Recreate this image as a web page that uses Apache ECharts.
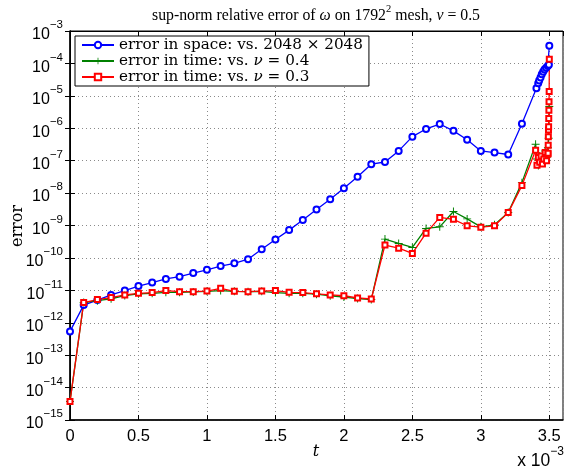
<!DOCTYPE html>
<html><head><meta charset="utf-8">
<script src="https://cdn.jsdelivr.net/npm/echarts@6/dist/echarts.min.js"></script>
<style>html,body{margin:0;padding:0;background:#fff}#c{width:568px;height:471px}</style>
</head><body><div id="c"></div>
<script>
// time axis values in units of 1e-3
const tSpace = [0,0.1,0.2,0.3,0.4,0.5,0.6,0.7,0.8,0.9,1.0,1.1,1.2,1.3,1.4,1.5,1.6,1.7,1.8,1.9,2.0,2.1,2.2,2.3,2.4,2.5,2.6,2.7,2.8,2.9,3.0,3.1,3.2,3.3,3.406,3.419,3.426,3.436,3.445,3.455,3.465,3.477,3.489,3.497,3.5];
const errSpace = [5.4e-13,3.5e-12,5.0e-12,7.2e-12,9.8e-12,1.35e-11,1.74e-11,2.24e-11,2.63e-11,3.4e-11,4.3e-11,5.6e-11,6.8e-11,9.1e-11,1.86e-10,3.7e-10,7.2e-10,1.48e-9,3.1e-9,6.5e-9,1.41e-8,3.2e-8,7.8e-8,9.1e-8,2.0e-7,5.5e-7,9.5e-7,1.35e-6,8.3e-7,4.4e-7,2.0e-7,1.78e-7,1.55e-7,1.38e-6,1.7e-5,2.45e-5,2.95e-5,3.7e-5,4.6e-5,5.5e-5,6.5e-5,7.4e-5,8.3e-5,9.1e-5,3.5e-4];
const tNu04 = [0,0.1,0.2,0.3,0.4,0.5,0.6,0.7,0.8,0.9,1.0,1.1,1.2,1.3,1.4,1.5,1.6,1.7,1.8,1.9,2.0,2.1,2.2,2.3,2.4,2.5,2.6,2.7,2.8,2.9,3.0,3.1,3.2,3.3,3.40,3.41,3.42,3.43,3.44,3.45,3.46,3.47,3.48,3.49,3.495,3.5];
const errNu04 = [3.7e-15,4.2e-12,4.8e-12,5.5e-12,6.9e-12,7.8e-12,8.1e-12,8.7e-12,8.7e-12,8.9e-12,9.3e-12,9.8e-12,9.3e-12,9.1e-12,9.3e-12,8.5e-12,8.1e-12,8.1e-12,7.6e-12,6.8e-12,6.2e-12,5.6e-12,5.2e-12,3.8e-10,2.8e-10,2.1e-10,8.1e-10,9.1e-10,2.7e-9,1.6e-9,9.1e-10,1.05e-9,2.5e-9,2.1e-8,3.2e-7,1.12e-7,7.1e-8,1.4e-7,1.0e-7,1.6e-7,8.9e-8,2.0e-7,1.26e-7,2.5e-7,4.9e-7,4.7e-6];
const tNu03 = [0,0.1,0.2,0.3,0.4,0.5,0.6,0.7,0.8,0.9,1.0,1.1,1.2,1.3,1.4,1.5,1.6,1.7,1.8,1.9,2.0,2.1,2.2,2.3,2.4,2.5,2.6,2.7,2.8,2.9,3.0,3.1,3.2,3.3,3.40,3.41,3.42,3.43,3.44,3.45,3.46,3.47,3.48,3.49,3.491,3.492,3.493,3.494,3.495,3.496,3.497,3.498,3.499,3.5];
const errNu03 = [3.7e-15,4.2e-12,5.2e-12,6.0e-12,7.2e-12,8.1e-12,8.5e-12,9.8e-12,9.1e-12,9.1e-12,9.5e-12,1.15e-11,9.3e-12,9.1e-12,9.5e-12,9.8e-12,8.7e-12,8.5e-12,7.8e-12,7.2e-12,6.8e-12,5.8e-12,5.4e-12,2.5e-10,2.0e-10,1.38e-10,5.8e-10,1.78e-9,1.55e-9,9.8e-10,8.9e-10,9.8e-10,2.5e-9,1.7e-8,2.1e-7,7.2e-8,1.26e-7,8.9e-8,1.4e-7,7.9e-8,1.12e-7,1.78e-7,1.0e-7,1.6e-7,1.7e-7,3.0e-7,5.5e-7,8.9e-7,1.12e-6,2.0e-6,3.6e-6,6.6e-6,1.35e-5,1.35e-4];
const xTicks = [0,0.5,1,1.5,2,2.5,3,3.5];
const seriesNames = ['space','nu04','nu03'];

const pairs = (t, v) => t.map((x, i) => [x, v[i]]);
const chart = echarts.init(document.getElementById('c'), null, {renderer: 'canvas'});
const serif = '"DejaVu Serif", "Liberation Serif", serif';
const serifT = '"Liberation Serif", "DejaVu Serif", serif';
const sans = '"Liberation Sans", Arial, sans-serif';
const gridLine = {show: true, lineStyle: {color: '#8a8a8a', type: [1, 3], width: 1}};
const expLabel = v => {
  const n = Math.round(Math.log10(v));
  return '{b|10}{s|' + (n < 0 ? '\u2212' + (-n) : n) + '}';
};
const tickRich = {
  b: {fontFamily: sans, fontSize: 16, color: '#000', verticalAlign: 'bottom', lineHeight: 24},
  s: {fontFamily: sans, fontSize: 11.5, color: '#000', verticalAlign: 'top', lineHeight: 24}
};
const bigRich = {
  b: {fontFamily: sans, fontSize: 17.5, color: '#000', verticalAlign: 'bottom', lineHeight: 24},
  s: {fontFamily: sans, fontSize: 12, color: '#000', verticalAlign: 'top', lineHeight: 24}
};
const legendRich = {
  n: {fontFamily: serif, fontSize: 15.2, color: '#000'},
  i: {fontFamily: serif, fontSize: 15.2, color: '#000', fontStyle: 'italic'}
};
const legendText = {
  space: '{n|error in space: vs. 2048 \u00d7 2048}',
  nu04: '{n|error in time: vs. }{i|\u03bd}{n| = 0.4}',
  nu03: '{n|error in time: vs. }{i|\u03bd}{n| = 0.3}'
};
const plusPath = 'path://M-0.12,-1H0.12V-0.12H1V0.12H0.12V1H-0.12V0.12H-1V-0.12H-0.12Z';

chart.setOption({
  animation: false,
  backgroundColor: '#fff',
  grid: {left: 70, right: 5, top: 31, bottom: 51, show: true, borderColor: '#000', borderWidth: 1,
    containLabel: false, outerBoundsMode: 'none'},
  legend: {
    orient: 'vertical', left: 75, top: 36, padding: [1, 6, 1, 6], itemGap: 0,
    itemWidth: 32, itemHeight: 8, backgroundColor: '#fff', borderColor: '#000', borderWidth: 1,
    data: seriesNames, formatter: n => legendText[n],
    textStyle: {fontFamily: serif, fontSize: 15.2, color: '#000', lineHeight: 16, rich: legendRich}
  },
  xAxis: [{
    type: 'value', min: 0, max: 3.6, interval: 0.5,
    axisLine: {show: true, onZero: false, lineStyle: {color: '#000', width: 1.5}},
    axisTick: {show: true, inside: true, length: 5, lineStyle: {color: '#000'}},
    axisLabel: {fontFamily: sans, fontSize: 16.5, color: '#000', margin: 8, showMaxLabel: false,
      formatter: v => xTicks.indexOf(v) >= 0 ? String(v) : ''},
    splitLine: gridLine
  }, {
    type: 'value', min: 0, max: 3.6, interval: 0.5, position: 'top',
    axisLine: {show: true, lineStyle: {color: '#000', width: 1}},
    axisTick: {show: true, inside: true, length: 5, lineStyle: {color: '#000'}},
    axisLabel: {show: false}, splitLine: {show: false}
  }],
  yAxis: [{
    type: 'log', logBase: 10, min: 1e-15, max: 1e-3, interval: 1, splitNumber: 12,
    axisLine: {show: true, lineStyle: {color: '#000', width: 1.5}},
    axisTick: {show: true, inside: true, length: 5, lineStyle: {color: '#000'}},
    minorTick: {show: false},
    axisLabel: {formatter: expLabel, rich: tickRich, margin: 7},
    splitLine: gridLine
  }, {
    type: 'log', logBase: 10, min: 1e-15, max: 1e-3, interval: 1, splitNumber: 12, position: 'right',
    axisLine: {show: true, lineStyle: {color: '#000', width: 1}},
    axisTick: {show: true, inside: true, length: 5, lineStyle: {color: '#000'}},
    axisLabel: {show: false}, splitLine: {show: false}
  }],
  graphic: [{
    type: 'text', x: 316, y: 4,
    style: {
      align: 'center',
      text: '{n|sup-norm relative error of }{i|\u03c9}{n| on 1792}{s|2}{n| mesh, }{i|\u03bd}{n| = 0.5}',
      rich: {
        n: {fontFamily: serifT, fontSize: 15.8, color: '#000', verticalAlign: 'bottom', lineHeight: 20},
        i: {fontFamily: serifT, fontSize: 15.8, color: '#000', fontStyle: 'italic', verticalAlign: 'bottom', lineHeight: 20},
        s: {fontFamily: serifT, fontSize: 10.5, color: '#000', verticalAlign: 'top', lineHeight: 20}
      }
    }
  }, {
    type: 'text', x: 564, y: 446,
    style: {align: 'right', text: '{b|x 10}{s|\u22123}', rich: bigRich}
  }, {
    type: 'text', x: 18, y: 226, rotation: Math.PI / 2,
    style: {text: 'error', align: 'center', verticalAlign: 'middle',
      fontFamily: serif, fontSize: 16, fill: '#000'}
  }, {
    type: 'text', x: 316, y: 452,
    style: {text: 't', align: 'center', verticalAlign: 'middle',
      fontFamily: serif, fontStyle: 'italic', fontSize: 16, fill: '#000'}
  }],
  series: [{
    name: 'space', type: 'line', data: pairs(tSpace, errSpace),
    color: '#0000ff', symbol: 'emptyCircle', symbolSize: 6,
    lineStyle: {width: 1.3}, itemStyle: {borderWidth: 1.2}
  }, {
    name: 'nu04', type: 'line', data: pairs(tNu04, errNu04),
    color: '#008000', symbol: plusPath, symbolSize: 8,
    lineStyle: {width: 1.3}
  }, {
    name: 'nu03', type: 'line', data: pairs(tNu03, errNu03),
    color: '#ff0000', symbol: 'emptyRect', symbolSize: 5,
    lineStyle: {width: 1.3}, itemStyle: {borderWidth: 1.2}
  }]
});
</script>
</body></html>
